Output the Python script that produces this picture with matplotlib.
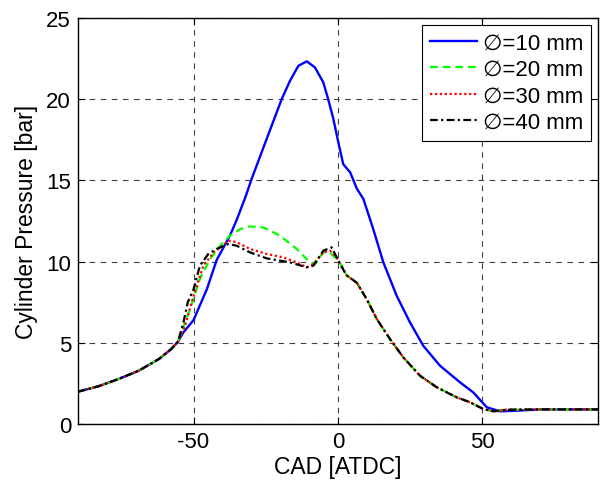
import matplotlib
matplotlib.use("Agg")
import matplotlib.pyplot as plt

# shared compression / expansion parts
x_comp = [-90, -83, -76, -69, -62, -57.7, -55.4]
y_comp = [1.99, 2.32, 2.77, 3.28, 4.0, 4.62, 5.07]
x_exp = [3, 6.5, 9.9, 13.4, 18, 22.6, 28.4, 34.2, 41.1, 45.7, 50.3, 53.8, 58.4, 70, 80, 90]
y_exp = [9.15, 8.7, 7.7, 6.47, 5.23, 4.1, 2.97, 2.26, 1.64, 1.34, 0.92, 0.78, 0.88, 0.9, 0.9, 0.9]

# 10 mm
x10 = x_comp + [-53.5, -50, -45.4, -42, -37.4, -35, -32, -29.9, -24.7, -19.5, -16.6, -13.7,
                -10.8, -8, -5.1, -3.4, -1.6, 0.1, 1.8, 4.2, 6.5, 8.8, 12.2, 15.7, 20.3, 24.9,
                29.5, 35.3, 42.2, 46.8, 51.5, 56.1, 61.9, 70, 80, 90]
y10 = y_comp + [5.65, 6.4, 8.3, 10.1, 11.6, 12.6, 14.0, 15.09, 17.55, 20.0, 21.14, 22.06,
                22.33, 21.96, 21.04, 20.0, 18.78, 17.35, 16.0, 15.5, 14.5, 13.85, 12.0, 9.95,
                7.9, 6.26, 4.82, 3.59, 2.57, 1.95, 1.03, 0.78, 0.82, 0.9, 0.9, 0.9]

# 20 mm
x20 = x_comp + [-51.2, -47.8, -44.3, -40.3, -37.4, -33.9, -30.5, -25.8, -20.1, -14.3, -9.7,
                -8, -5.1, -2.8, -0.5, 1.3] + x_exp
y20 = y_comp + [7.08, 8.93, 10.16, 11.08, 11.6, 12.0, 12.17, 12.1, 11.6, 10.78, 9.95,
                9.85, 10.57, 10.57, 10.16, 9.75] + y_exp

# 30 mm
x30 = x_comp + [-53, -50, -46.6, -42.6, -40.3, -38, -35.1, -30.5, -24.7, -18.9, -14.3,
                -10.8, -8.5, -5.1, -2.8, -0.5, 0.7] + x_exp
y30 = y_comp + [6.0, 7.9, 9.75, 10.67, 10.9, 11.29, 11.2, 10.78, 10.47, 10.26, 9.95,
                9.65, 9.85, 10.57, 10.67, 10.26, 9.85] + y_exp

# 40 mm
x40 = x_comp + [-53.5, -52, -50, -47.8, -44.9, -42, -38, -35.1, -30.5, -24.7, -16.6,
                -10.8, -8.5, -5.1, -2.2, 0.7] + x_exp
y40 = y_comp + [6.26, 7.5, 8.3, 9.75, 10.47, 10.78, 11.08, 10.98, 10.57, 10.2, 9.95,
                9.65, 9.75, 10.67, 10.88, 9.85] + y_exp

labels = ["\u2205=10 mm", "\u2205=20 mm", "\u2205=30 mm", "\u2205=40 mm"]

plt.rcParams['font.family'] = ['Liberation Sans', 'DejaVu Sans']
plt.rcParams['font.size'] = 16
plt.rcParams['axes.unicode_minus'] = False

fig = plt.figure(figsize=(6.0, 4.81), dpi=100)
ax = fig.add_axes([0.13, 0.1164, 0.8667, 0.8441])

ax.plot(x10, y10, color='#0000ff', lw=1.7, linestyle='-', label=labels[0])
ax.plot(x20, y20, color='#00ff00', lw=1.6, dashes=(3.5, 2.2), label=labels[1])
ax.plot(x30, y30, color='#ff0000', lw=1.6, dashes=(1, 1.2), label=labels[2])
ax.plot(x40, y40, color='black', lw=1.6, dashes=(3.5, 1.5, 1, 1.5), label=labels[3])

ax.set_xlim(-90, 90)
ax.set_ylim(0, 25)
ax.set_xticks([-50, 0, 50])
ax.set_yticks([0, 5, 10, 15, 20, 25])
ax.tick_params(direction='in', length=5, top=True, right=True, labelsize=16, pad=5)
ax.grid(True, color='0.25', linestyle=(0, (5, 5)), linewidth=0.8)
for s in ax.spines.values():
    s.set_linewidth(1.0)

ax.set_xlabel("CAD [ATDC]", fontsize=16.5, labelpad=2)
ax.set_ylabel("Cylinder Pressure [bar]", fontsize=16.5, labelpad=6)

leg = ax.legend(loc='upper right', fontsize=16, frameon=True, fancybox=False,
                edgecolor='black', framealpha=1, handlelength=2.1,
                borderaxespad=0.3, borderpad=0.35, labelspacing=0.25,
                handletextpad=0.3)
leg.get_frame().set_linewidth(0.8)

fig.savefig("out.png", dpi=100)
